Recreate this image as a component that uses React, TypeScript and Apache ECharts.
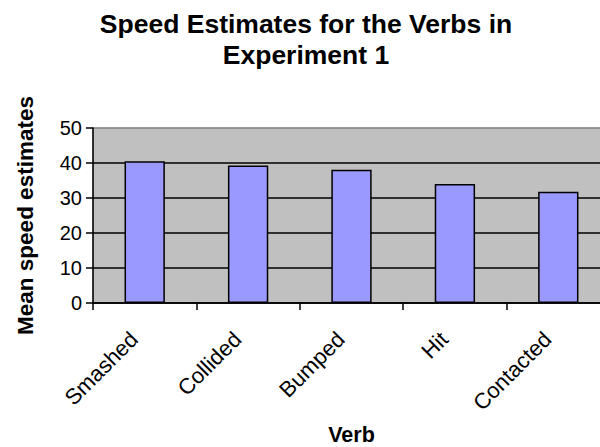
import React, { useEffect, useRef } from 'react';
import * as echarts from 'echarts';

const categories = ['Smashed', 'Collided', 'Bumped', 'Hit', 'Contacted'];
const speedEstimates = [40.5, 39.3, 38.1, 34.0, 31.8];
const yTickValues = [0, 10, 20, 30, 40, 50];
const titleText = 'Speed Estimates for the Verbs in\nExperiment 1';
const xAxisTitle = 'Verb';
const yAxisTitle = 'Mean speed estimates';

const FONT = 'Arial, "Liberation Sans", sans-serif';

export default function App() {
  const ref = useRef<HTMLDivElement>(null);

  useEffect(() => {
    if (!ref.current) return;
    const chart = echarts.init(ref.current, null, { renderer: 'svg' });
    const interval = yTickValues[1] - yTickValues[0];
    const splitColors = yTickValues.map((v, i) =>
      i === yTickValues.length - 1 ? '#8a8a8a' : '#000000'
    );
    chart.setOption({
      animation: false,
      backgroundColor: '#ffffff',
      title: {
        text: titleText,
        left: 306,
        top: 8,
        padding: 0,
        textAlign: 'center',
        textStyle: {
          fontFamily: FONT,
          fontWeight: 'bold',
          fontSize: 26.5,
          lineHeight: 31,
          color: '#000',
        },
      },
      grid: {
        left: 93,
        top: 128,
        width: 517,
        height: 175,
        show: true,
        outerBoundsMode: 'none',
        containLabel: false,
        backgroundColor: '#C0C0C0',
        borderColor: '#8a8a8a',
        borderWidth: 1,
      },
      xAxis: {
        type: 'category',
        data: categories,
        boundaryGap: true,
        name: xAxisTitle,
        nameLocation: 'middle',
        nameGap: 121,
        nameTextStyle: {
          fontFamily: FONT,
          fontWeight: 'bold',
          fontSize: 21.5,
          color: '#000',
        },
        axisLine: { show: true, lineStyle: { color: '#000', width: 1.5 } },
        axisTick: { show: true, alignWithLabel: false, length: 7, lineStyle: { color: '#000', width: 1.5 } },
        axisLabel: {
          rotate: 45,
          interval: 0,
          margin: 22,
          padding: [0, 15, 0, 0],
          fontFamily: FONT,
          fontSize: 22,
          color: '#000',
        },
        splitLine: { show: false },
      },
      yAxis: {
        type: 'value',
        min: yTickValues[0],
        max: yTickValues[yTickValues.length - 1],
        interval,
        name: yAxisTitle,
        nameLocation: 'middle',
        nameGap: 56,
        nameTextStyle: {
          fontFamily: FONT,
          fontWeight: 'bold',
          fontSize: 22.5,
          color: '#000',
        },
        axisLine: { show: true, lineStyle: { color: '#000', width: 1.5 } },
        axisTick: { show: true, length: 7, lineStyle: { color: '#000', width: 1.5 } },
        axisLabel: {
          margin: 11,
          fontFamily: FONT,
          fontSize: 20,
          color: '#000',
        },
        splitLine: { show: true, lineStyle: { color: splitColors, width: 1.6 } },
      },
      series: [
        {
          type: 'bar',
          data: speedEstimates,
          barWidth: '39%',
          itemStyle: {
            color: '#9999FF',
            borderColor: '#000',
            borderWidth: 1.5,
          },
        },
      ],
    });
    return () => chart.dispose();
  }, []);

  return (
    <div
      ref={ref}
      style={{ position: 'fixed', left: 0, top: 0, width: 600, height: 447 }}
    />
  );
}
